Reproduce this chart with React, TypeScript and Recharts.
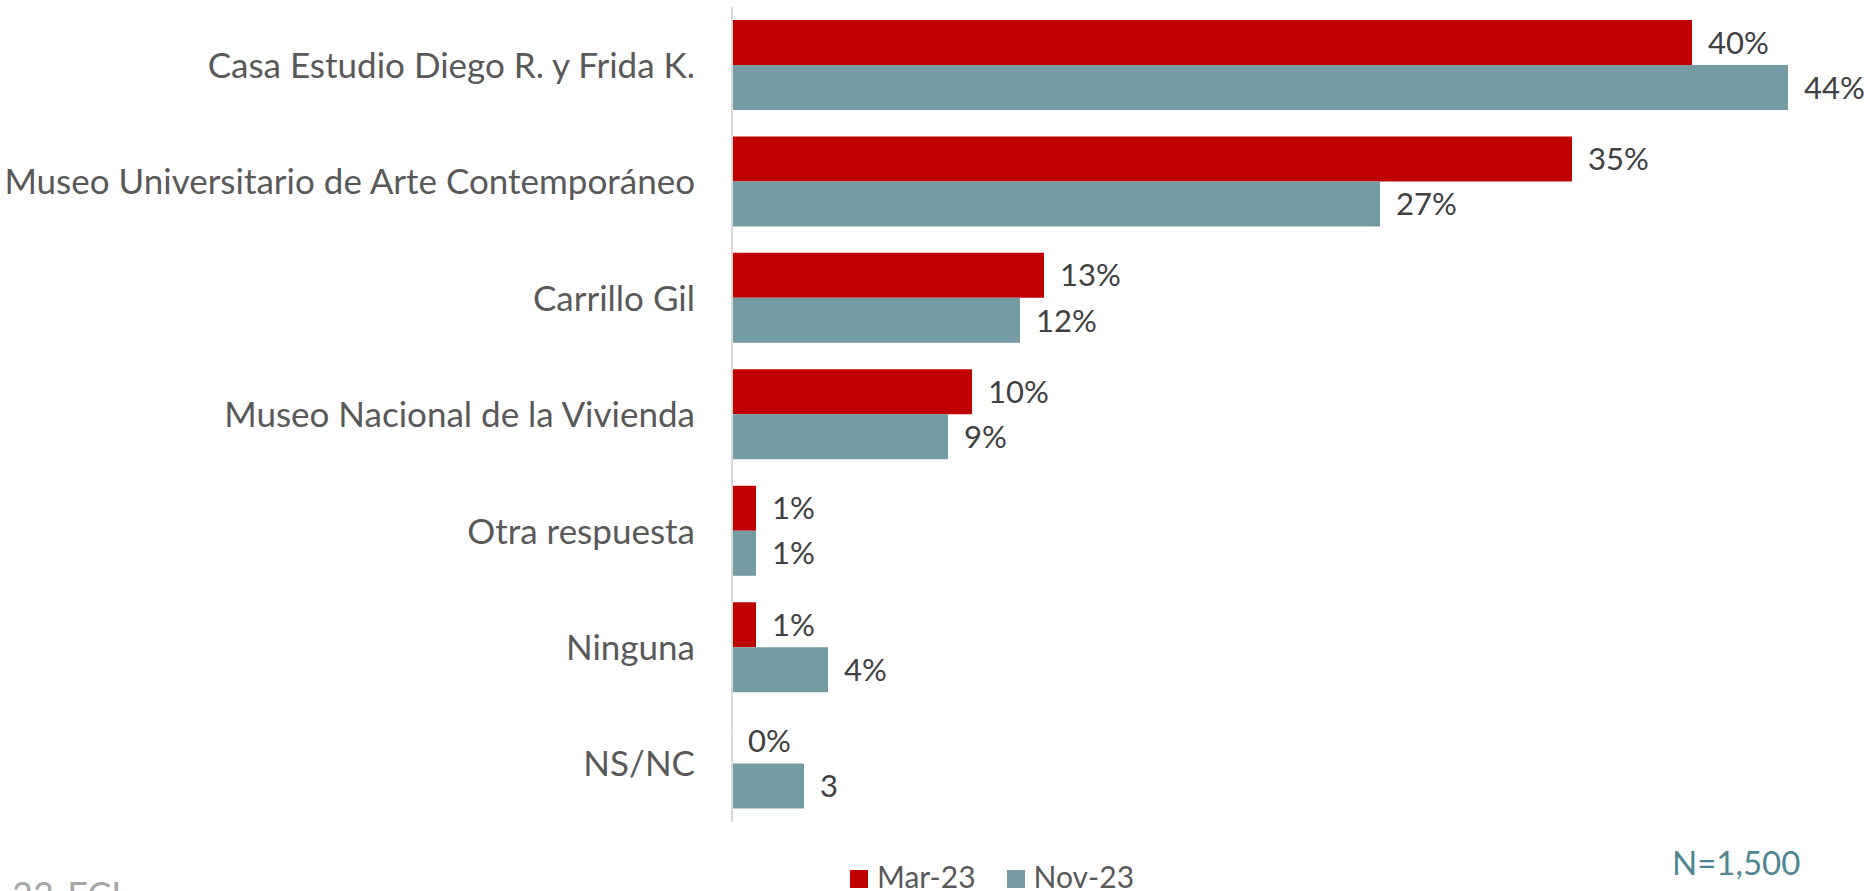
import React from 'react';
import { BarChart, Bar, XAxis, YAxis, LabelList } from 'recharts';

const categories = [
  'Casa Estudio Diego R. y Frida K.',
  'Museo Universitario de Arte Contemporáneo',
  'Carrillo Gil',
  'Museo Nacional de la Vivienda',
  'Otra respuesta',
  'Ninguna',
  'NS/NC',
];
const mar23 = [40, 35, 13, 10, 1, 1, 0];
const nov23 = [44, 27, 12, 9, 1, 4, 3];
const mar23Labels = ['40%', '35%', '13%', '10%', '1%', '1%', '0%'];
const nov23Labels = ['44%', '27%', '12%', '9%', '1%', '4%', '3'];
const seriesNames = ['Mar-23', 'Nov-23'];

const RED = '#C00000';
const TEAL = '#759BA3';
const FONT = 'Lato, "Open Sans", sans-serif';
const LABEL_COLOR = '#404040';

const chartData = categories.map((name, i) => ({
  name,
  mar: mar23[i],
  nov: nov23[i],
  marLabel: mar23Labels[i],
  novLabel: nov23Labels[i],
}));

// category labels right aligned a bit left of the axis line
const CategoryTick = (props: any) => {
  const { y, payload } = props;
  return (
    <text x={695} y={y} dy="0.36em" textAnchor="end" fill="#595959" fontSize={35} fontFamily={FONT}>
      {payload.value}
    </text>
  );
};

// Nov-23 label; also draws the Mar-23 label when that bar is zero (recharts skips it)
const NovLabel = (props: any) => {
  const { x, y, width, height, value, index } = props;
  const ty = y + height / 2;
  return (
    <g>
      <text x={x + width + 16} y={ty} dy="0.36em" fill={LABEL_COLOR} fontSize={31} fontFamily={FONT}>
        {value}
      </text>
      {mar23[index] === 0 && (
        <text x={x + 16} y={ty - height} dy="0.36em" fill={LABEL_COLOR} fontSize={31} fontFamily={FONT}>
          {mar23Labels[index]}
        </text>
      )}
    </g>
  );
};

const App: React.FC = () => {
  return (
    <div style={{ position: 'absolute', left: 0, top: 0, width: 1864, height: 891, overflow: 'hidden', background: '#fff' }}>
      <BarChart
        width={1864}
        height={891}
        layout="vertical"
        data={chartData}
        margin={{ top: 7, right: 28, bottom: 69, left: 0 }}
        barCategoryGap={13}
        barGap={0}
      >
        <XAxis type="number" domain={[0, 46]} hide />
        <YAxis
          type="category"
          dataKey="name"
          width={732}
          tickLine={false}
          axisLine={{ stroke: '#D9D9D9', strokeWidth: 2 }}
          tick={<CategoryTick />}
          interval={0}
        />
        <Bar dataKey="mar" name={seriesNames[0]} fill={RED} isAnimationActive={false}>
          <LabelList dataKey="marLabel" position="right" offset={16} fill={LABEL_COLOR} fontSize={31} fontFamily={FONT} />
        </Bar>
        <Bar dataKey="nov" name={seriesNames[1]} fill={TEAL} isAnimationActive={false}>
          <LabelList dataKey="novLabel" content={<NovLabel />} />
        </Bar>
      </BarChart>
      <div style={{ position: 'absolute', left: 850, top: 864, display: 'flex', alignItems: 'center', fontFamily: FONT, fontSize: 30, color: '#595959', lineHeight: '24px' }}>
        {seriesNames.map((s, i) => (
          <div key={s} style={{ display: 'flex', alignItems: 'center', marginRight: 31 }}>
            <span style={{ width: 18, height: 18, background: i === 0 ? RED : TEAL, marginRight: 9, display: 'inline-block', position: 'relative', top: 3 }} />
            <span>{s}</span>
          </div>
        ))}
      </div>
      <div style={{ position: 'absolute', left: 1672, top: 846, fontFamily: FONT, fontSize: 33, color: '#4F8591', lineHeight: 1 }}>
        N=1,500
      </div>
      <div style={{ position: 'absolute', left: 12, top: 876, fontFamily: FONT, fontSize: 36, color: '#A6A6A6', lineHeight: 1 }}>
        23-FCL
      </div>
    </div>
  );
};

export default App;
